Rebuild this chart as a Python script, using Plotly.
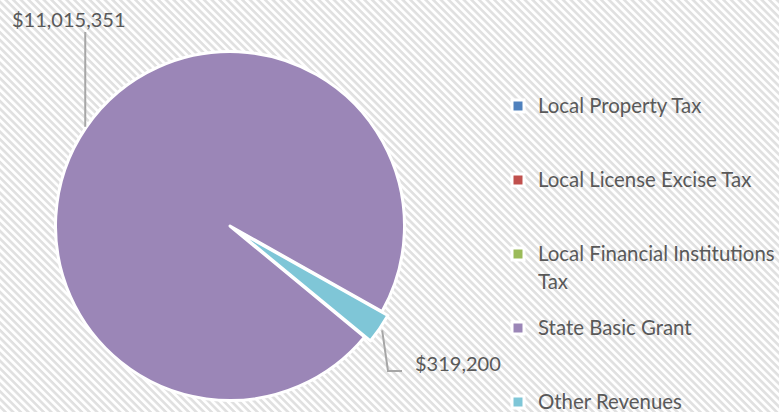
import math
import base64
import textwrap
import plotly.graph_objects as go

# ---- data ----
categories = ["Local Property Tax", "Local License Excise Tax",
              "Local Financial Institutions Tax", "State Basic Grant", "Other Revenues"]
revenues = [0, 0, 0, 11015351, 319200]
slice_colors = ["#4f81bd", "#c0504d", "#9bbb59", "#9b86b7", "#7fc6d7"]
pulls = [0, 0, 0, 0, 0.04]

W, H = 779, 412
TEXT = "#595959"
LEADER = "#a6a6a6"

# pie geometry (pixels)
cx, cy, r = 230.0, 226.0, 174.5
rotation = 129.5
box = 2 * r * (1 + max(pulls))
dom_x = [(cx - box / 2) / W, (cx + box / 2) / W]
dom_y = [1 - (cy + box / 2) / H, 1 - (cy - box / 2) / H]


def px(x):
    return x / W


def py(y):
    return 1 - y / H


# legend entries: wrapped text, padded with blank lines for Excel-like spacing
TXT = 20.4
LEG_F = 18.2


def legend_label(name, last):
    lines = textwrap.wrap(name, 28)
    parts = []
    for k, ln in enumerate(lines):
        s = f'<span style="font-size:{TXT}px">{ln}</span>'
        if k > 0:
            s = f"<sub>{s}</sub>"  # slightly wider line spacing for wrapped lines
        parts.append(s)
    if not last:
        while len(parts) < 3:
            parts.append("\u00a0")
    return "<br>".join(parts)


labels = [legend_label(c, i == len(categories) - 1) for i, c in enumerate(categories)]

fig = go.Figure()
fig.add_trace(go.Pie(
    labels=labels, values=revenues, sort=False, direction="clockwise",
    rotation=rotation, pull=pulls, textinfo="none", hoverinfo="value+percent",
    marker=dict(colors=slice_colors, line=dict(color="white", width=3)),
    domain=dict(x=dom_x, y=dom_y), showlegend=True,
))

# angles of slice midpoints (same math as the pie)
total = sum(revenues)
acc = rotation
mids = []
for v in revenues:
    a0 = acc
    acc += 360 * v / total
    mids.append((a0 + acc) / 2)


def polar(angle, rad):
    t = math.radians(angle)
    return cx + rad * math.sin(t), cy - rad * math.cos(t)


# leader line + label for State Basic Grant
ax1, ay1 = polar(mids[3], r + 1)
label_y1 = 32
# leader for Other Revenues
ax2, ay2 = polar(mids[4], r * (1 + pulls[4]) + 3)
elbow = (388, 371)
tail = (402, 371)

shapes = [
    dict(type="line", xref="paper", yref="paper", x0=px(ax1), y0=py(ay1),
         x1=px(ax1), y1=py(label_y1), line=dict(color=LEADER, width=2)),
    dict(type="path", xref="paper", yref="paper",
         path=f"M {px(ax2)} {py(ay2)} L {px(elbow[0])} {py(elbow[1])} L {px(tail[0])} {py(tail[1])}",
         line=dict(color=LEADER, width=2)),
]

annotations = [
    dict(text=f"${revenues[3]:,.0f}", x=px(68.5), y=py(19), xref="paper", yref="paper",
         xanchor="center", yanchor="middle", showarrow=False,
         font=dict(family="Lato", size=20, color=TEXT)),
    dict(text=f"${revenues[4]:,.0f}", x=px(413), y=py(363), xref="paper", yref="paper",
         xanchor="left", yanchor="middle", showarrow=False,
         font=dict(family="Lato", size=20, color=TEXT)),
]

# diagonal hatch background
svg = (f'<svg xmlns="http://www.w3.org/2000/svg" width="{W}" height="{H}">'
       '<defs><pattern id="p" patternUnits="userSpaceOnUse" width="5.4" height="5.4" '
       'patternTransform="rotate(45)">'
       '<rect width="5.4" height="5.4" fill="#ffffff"/>'
       '<rect width="5.4" height="2.6" fill="#e0e0e0"/></pattern></defs>'
       f'<rect width="{W}" height="{H}" fill="url(#p)"/></svg>')
src = "data:image/svg+xml;base64," + base64.b64encode(svg.encode()).decode()

lx_sym = 518
leg_L = 1.3 * LEG_F
leg_top = 106 - 5 - leg_L / 2 - 1.5

fig.update_layout(
    width=W, height=H,
    margin=dict(l=0, r=0, t=0, b=0, pad=0, autoexpand=False),
    paper_bgcolor="white", plot_bgcolor="white",
    font=dict(family="Lato", color=TEXT),
    images=[dict(source=src, xref="paper", yref="paper", x=0, y=1, sizex=1, sizey=1,
                 sizing="stretch", layer="below", xanchor="left", yanchor="top")],
    legend=dict(x=px(lx_sym - 20), y=py(leg_top), xanchor="left", yanchor="top",
                bgcolor="rgba(0,0,0,0)", borderwidth=0, valign="top",
                font=dict(family="Lato", size=LEG_F, color=TEXT), itemclick=False),
    shapes=shapes, annotations=annotations,
)

fig.write_html("out.html", config={"displayModeBar": False},
               post_script="document.body.style.margin='0px';")
